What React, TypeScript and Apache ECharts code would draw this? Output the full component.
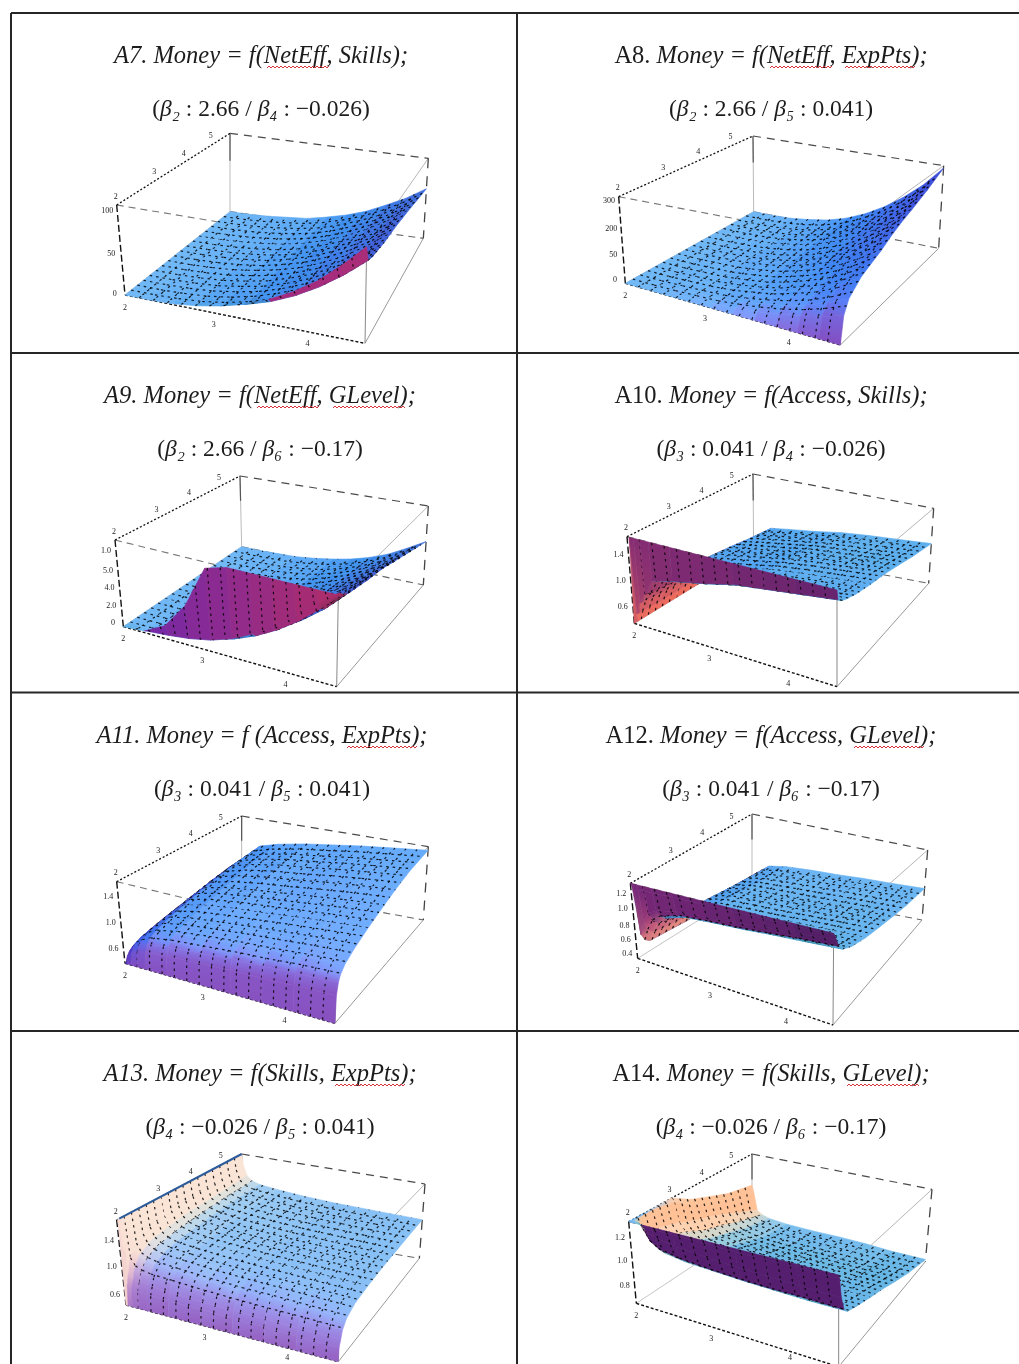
import React, { useEffect, useRef } from "react";
import * as echarts from "echarts";

const uPower = [0, .1, .2, .3, .4, .5, .6, .7, .8, .9, 1];
const uFine = [0, .01, .03, .06, .1, .2, .35, .5, .65, .8, 1];

const a7V = [0, .03, .1, .2, .3, .4, .5, .6, .7, .85, 1];
const a7Z = [
  [0, 0, 1, 4, 9, 16, 26, 39, 55, 76, 100],
  [0, 0, 1, 3, 7, 13, 21, 32, 46, 63, 83],
  [0, 0, 1, 3, 7, 13, 21, 31, 44, 60, 80],
  [0, 0, 1, 3, 7, 12, 20, 30, 43, 59, 78],
  [0, 0, 1, 3, 7, 12, 20, 29, 42, 57, 76],
  [0, 0, 1, 3, 7, 12, 19, 29, 41, 57, 75],
  [0, 0, 1, 3, 6, 12, 19, 29, 41, 56, 74],
  [0, 0, 1, 3, 6, 11, 19, 28, 40, 54, 72],
  [0, 0, 1, 3, 6, 11, 18, 27, 39, 53, 70],
  [0, 0, 1, 3, 6, 10, 17, 26, 36, 50, 66],
  [0, 0, 1, 3, 5, 10, 16, 24, 35, 47, 62],
];
const a8V = [0, .03, .08, .2, .3, .4, .5, .6, .7, .85, 1];
const a8Z = [
  [0, 0, 0, 0, 0, 0, 0, 0, 0, 0, 0],
  [0, 0, 0, 1, 2, 4, 6, 10, 14, 19, 25],
  [0, 0, 1, 2, 3, 6, 10, 14, 20, 28, 37],
  [0, 0, 1, 2, 4, 8, 12, 19, 26, 36, 48],
  [0, 0, 1, 2, 5, 8, 14, 21, 29, 40, 53],
  [0, 0, 1, 2, 5, 9, 15, 22, 32, 44, 58],
  [0, 0, 1, 3, 6, 10, 17, 25, 36, 49, 65],
  [0, 0, 1, 3, 6, 11, 18, 27, 39, 54, 71],
  [0, 0, 1, 3, 7, 12, 20, 29, 42, 57, 76],
  [0, 0, 1, 3, 7, 13, 22, 33, 47, 64, 85],
  [0, 0, 1, 4, 8, 15, 25, 38, 54, 73, 97],
];
const a9V = [0, .02, .05, .1, .2, .35, .5, .65, .8, .9, 1];
const a9Z = [
  [0, 2, 15, 44, 93, 100, 100, 100, 100, 100, 100],
  [0, 0, 2, 5, 10, 18, 30, 44, 63, 87, 100],
  [0, 0, 1, 4, 9, 15, 25, 38, 54, 74, 96],
  [0, 0, 1, 4, 8, 15, 24, 36, 51, 69, 92],
  [0, 0, 1, 4, 8, 14, 23, 34, 49, 66, 88],
  [0, 0, 1, 3, 7, 13, 21, 32, 46, 63, 83],
  [0, 0, 1, 3, 7, 12, 20, 31, 44, 60, 79],
  [0, 0, 1, 3, 6, 11, 19, 28, 40, 54, 72],
  [0, 0, 1, 3, 6, 10, 17, 25, 36, 49, 65],
  [0, 0, 1, 2, 5, 9, 15, 23, 33, 45, 60],
  [0, 0, 1, 2, 5, 9, 14, 21, 30, 42, 55],
];
const a10V = [0, .01, .03, .06, .1, .2, .35, .5, .65, .8, 1];
const a10Z = [
  [0, 100, 100, 100, 100, 100, 100, 100, 100, 100, 100],
  [0, 11, 25, 37, 55, 61, 68, 76, 80, 84, 89],
  [0, 10, 24, 37, 54, 59, 66, 74, 78, 82, 87],
  [0, 10, 24, 35, 52, 57, 64, 71, 76, 79, 84],
  [0, 10, 23, 34, 51, 56, 62, 70, 74, 77, 82],
  [0, 9, 22, 33, 48, 53, 59, 66, 70, 73, 78],
  [0, 9, 21, 31, 46, 50, 56, 63, 67, 70, 74],
  [0, 9, 20, 30, 44, 48, 54, 60, 64, 67, 71],
  [0, 8, 18, 28, 41, 45, 50, 56, 59, 62, 66],
  [0, 7, 17, 25, 37, 41, 46, 51, 54, 56, 60],
  [0, 6, 15, 22, 33, 36, 40, 45, 48, 50, 53],
];
const a11V = [0, .01, .03, .05, .1, .2, .35, .5, .65, .8, 1];
const a11Z = [
  [0, 0, 0, 0, 0, 0, 0, 0, 0, 0, 0],
  [0, 9, 14, 17, 20, 22, 24, 26, 27, 29, 30],
  [0, 13, 19, 24, 28, 31, 34, 37, 39, 41, 43],
  [0, 15, 22, 27, 32, 36, 39, 42, 44, 47, 49],
  [0, 17, 25, 31, 36, 41, 45, 48, 50, 53, 56],
  [0, 19, 28, 35, 41, 46, 50, 54, 57, 60, 63],
  [0, 21, 32, 39, 46, 52, 57, 60, 64, 67, 71],
  [0, 23, 35, 43, 51, 57, 62, 66, 70, 74, 78],
  [0, 26, 38, 47, 55, 62, 68, 72, 77, 81, 85],
  [0, 27, 41, 50, 59, 66, 73, 77, 82, 86, 91],
  [0, 29, 43, 52, 62, 69, 76, 81, 86, 90, 95],
];
const a12V = [0, .01, .03, .06, .1, .2, .35, .5, .65, .8, 1];
const a12Z = [
  [100, 100, 100, 100, 100, 100, 100, 100, 100, 100, 100],
  [95, 90, 92, 93, 93, 94, 95, 95, 96, 96, 97],
  [60, 30, 48, 62, 68, 74, 77, 80, 84, 86, 90],
  [30, 20, 35, 50, 58, 66, 69, 71, 74, 77, 80],
  [15, 15, 28, 42, 52, 60, 63, 65, 68, 70, 73],
  [13, 14, 25, 38, 48, 54, 57, 59, 61, 63, 66],
  [11, 12, 22, 34, 44, 49, 52, 53, 56, 58, 60],
  [8, 10, 20, 32, 41, 46, 48, 50, 52, 54, 56],
  [6, 9, 18, 30, 38, 43, 45, 46, 48, 50, 52],
  [5, 8, 16, 28, 35, 39, 41, 43, 45, 46, 48],
  [4, 7, 14, 26, 33, 37, 39, 40, 42, 43, 45],
];
const a13V = [0, .01, .03, .05, .1, .2, .35, .5, .65, .8, 1];
const a13Z = [
  [0, 0, 0, 0, 0, 0, 0, 0, 0, 0, 0],
  [100, 24, 21, 19, 18, 17, 17, 16, 16, 15, 15],
  [100, 36, 30, 28, 27, 25, 24, 23, 23, 22, 22],
  [100, 49, 41, 38, 36, 35, 33, 32, 31, 31, 30],
  [100, 62, 52, 48, 46, 44, 42, 40, 40, 39, 38],
  [100, 72, 61, 56, 53, 51, 48, 47, 46, 45, 44],
  [100, 77, 65, 60, 57, 54, 52, 50, 49, 48, 47],
  [100, 80, 68, 62, 59, 56, 54, 52, 51, 50, 49],
  [100, 82, 69, 64, 61, 58, 55, 53, 52, 51, 50],
  [100, 83, 70, 65, 62, 59, 56, 54, 53, 52, 51],
  [100, 85, 72, 66, 63, 60, 57, 55, 54, 53, 52],
];
const a14V = [0, .01, .03, .06, .1, .2, .35, .5, .65, .8, 1];
const a14Z = [
  [100, 100, 100, 100, 100, 100, 100, 100, 100, 100, 100],
  [100, 100, 100, 98, 97, 96, 96, 95, 95, 95, 95],
  [100, 100, 98, 90, 85, 80, 77, 75, 74, 73, 72],
  [100, 100, 88, 75, 68, 63, 60, 58, 57, 57, 56],
  [100, 100, 80, 68, 60, 56, 54, 52, 51, 50, 50],
  [100, 100, 78, 68, 60, 51, 48, 47, 46, 45, 45],
  [100, 95, 70, 60, 52, 44, 41, 40, 39, 38, 38],
  [85, 78, 60, 48, 41, 36, 34, 33, 32, 31, 31],
  [75, 68, 52, 40, 33, 27, 25, 24, 23, 22, 22],
  [65, 58, 40, 30, 24, 18, 16, 15, 14, 13, 13],
  [57, 48, 24, 19, 16, 13, 11, 10, 8, 5, 3],
];

const titlePrefixes = ["A7. ", "A8. ", "A9. ", "A10. ", "A11. ", "A12. ", "A13. ", "A14. "];
const titleBodies = [
  "Money = f(NetEff, Skills);", "Money = f(NetEff, ExpPts);", "Money = f(NetEff, GLevel);", "Money = f(Access, Skills);",
  "Money = f (Access, ExpPts);", "Money = f(Access, GLevel);", "Money = f(Skills, ExpPts);", "Money = f(Skills, GLevel);",
];
const betaNames = [["β₂", "β₄"], ["β₂", "β₅"], ["β₂", "β₆"], ["β₃", "β₄"], ["β₃", "β₅"], ["β₃", "β₆"], ["β₄", "β₅"], ["β₄", "β₆"]];
const betaValues = [
  ["2.66", "−0.026"], ["2.66", "0.041"], ["2.66", "−0.17"], ["0.041", "−0.026"],
  ["0.041", "0.041"], ["0.041", "−0.17"], ["−0.026", "0.041"], ["−0.026", "−0.17"],
];
const frontTickLabels = ["2", "3", "4"];
const frontTickAt = [0, .37, .76];
const sideTickLabels = ["2", "3", "4", "5"];
const sideTickAt = [0, .34, .6, .84];
const zTickLabels = [
  ["100", "50", "0"], ["300", "200", "50", "0"], ["1.0", "5.0", "4.0", "2.0", "0"], ["1.4", "1.0", "0.6"],
  ["1.4", "1.0", "0.6"], ["1.2", "1.0", "0.8", "0.6", "0.4"], ["1.4", "1.0", "0.6"], ["1.2", "1.0", "0.8"],
];
const zTickAt = [
  [94, 46, 2], [96, 63, 33, 4], [88, 65, 45, 24, 5], [80, 50, 20],
  [82, 50, 18], [87, 67, 44, 25, 7], [76, 45, 12], [81, 52, 22],
];

// layout: box corners, as L, K, R, F (top) and L, K, R, F (bottom)
const box = (ox: number, oy: number, p: number[][]) => p.map(([x, y]) => [ox + x / 3, oy + y / 3]);
const boxes = [
  box(0, 0, [[350, 615], [690, 400], [1285, 475], [1100, 740], [375, 885], [690, 635], [1270, 715], [1095, 1030]]),
  box(517, 0, [[305, 590], [708, 408], [1280, 497], [975, 717], [325, 850], [710, 635], [1265, 745], [970, 1035]]),
  box(0, 350, [[345, 570], [720, 378], [1285, 468], [1015, 735], [370, 830], [725, 590], [1270, 705], [1010, 1010]]),
  box(517, 350, [[330, 560], [708, 372], [1250, 475], [960, 720], [352, 820], [710, 600], [1235, 700], [960, 1010]]),
  box(0, 690, [[350, 575], [725, 378], [1285, 470], [1010, 735], [375, 820], [725, 590], [1270, 690], [1005, 1000]]),
  box(517, 690, [[340, 580], [705, 372], [1232, 480], [950, 730], [362, 805], [705, 590], [1215, 690], [948, 1005]]),
  box(0, 1030, [[350, 570], [725, 372], [1275, 462], [1015, 730], [378, 825], [725, 595], [1258, 685], [1015, 995]]),
  box(517, 1030, [[335, 575], [705, 372], [1245, 478], [965, 735], [358, 820], [705, 590], [1225, 695], [965, 1010]]),
];
const surfaces = [
  { u: uPower, v: a7V, z: a7Z }, { u: uPower, v: a8V, z: a8Z }, { u: uPower, v: a9V, z: a9Z }, { u: uFine, v: a10V, z: a10Z },
  { u: uFine, v: a11V, z: a11Z }, { u: uFine, v: a12V, z: a12Z }, { u: uFine, v: a13V, z: a13Z }, { u: uFine, v: a14V, z: a14Z },
];
const titleCentersX = [261, 771, 260, 771, 262, 771, 260, 771];
const titleCentersY = [54, 54, 394, 394, 734, 734, 1072, 1072];
const subCentersY = [108, 108, 448, 448, 788, 788, 1126, 1126];
const squiggles = [
  [267, 330, 67], [770, 832, 67], [845, 915, 67], [257, 320, 407], [333, 405, 407],
  [347, 417, 747], [854, 925, 747], [335, 405, 1085], [847, 919, 1085],
];
// styling per panel
const wallTints: (number[][] | null)[] = [
  [[150, 40, 140], [170, 45, 120]], null, [[110, 40, 175], [175, 45, 105]], [[135, 45, 115], [100, 35, 110]],
  null, [[120, 40, 120], [80, 30, 100]], null, [[85, 30, 110], [85, 30, 110]],
];
const whiteU = [0, 0, 0, .3, 0, .45, .8, .22];
const whiteAll = [0, 0, 0, 0, 0, .03, .12, .03];
const wedgeTints: (number[][] | null)[] = [
  null, null, null, [[245, 112, 92], [135, 45, 110]], null, [[250, 170, 130], [170, 60, 120]], null, null,
];

const project = (c: number[][], u: number, v: number, z: number) => {
  const bi = (a: number[], b: number[], d: number[], e: number[], k: number) =>
    (1 - u) * (1 - v) * a[k] + u * (1 - v) * e[k] + u * v * d[k] + (1 - u) * v * b[k];
  const t = z / 100;
  return [0, 1].map((k) => (1 - t) * bi(c[4], c[5], c[6], c[7], k) + t * bi(c[0], c[1], c[2], c[3], k));
};

const norm = (a: number[]) => { const l = Math.hypot(a[0], a[1], a[2]) || 1; return a.map((x) => x / l); };
const dot = (a: number[], b: number[]) => a[0] * b[0] + a[1] * b[1] + a[2] * b[2];
const viewZ = norm([1.3, -2.4, 2]);
const viewX = norm([2.4, 1.3, 0]);
const viewY = [
  viewZ[1] * viewX[2] - viewZ[2] * viewX[1],
  viewZ[2] * viewX[0] - viewZ[0] * viewX[2],
  viewZ[0] * viewX[1] - viewZ[1] * viewX[0],
];
const lightR = norm([1.5, -.5, 2]), lightG = norm([1.5, 1.5, 2]), lightB = norm([-.5, 1.5, 2]);
const clampTo = (x: number, m: number) => Math.max(-m, Math.min(m, x));

const shadeCell = (p: number, i: number, j: number) => {
  const { u, v, z } = surfaces[p];
  const u0 = u[i], u1 = u[i + 1], v0 = v[j], v1 = v[j + 1];
  const zs = [z[j][i], z[j][i + 1], z[j + 1][i + 1], z[j + 1][i]];
  const h = .4 / 100;
  const dzu = ((zs[1] - zs[0]) + (zs[2] - zs[3])) / 2 * h / (u1 - u0);
  const dzv = ((zs[3] - zs[0]) + (zs[2] - zs[1])) / 2 * h / (v1 - v0);
  let n = norm([-dzu, -dzv, 1]);
  const flip = dot(n, viewZ) < 0;
  const tint = wallTints[p];
  const um = (u0 + u1) / 2;
  if (flip && tint && Math.abs(dzv) > Math.abs(dzu)) {
    return { c: tint[0].map((a, k) => a + (tint[1][k] - a) * um), flip };
  }
  const wedge = wedgeTints[p];
  if (wedge && dzu > .9 && v0 < .6) {
    const t = Math.min(1, ((zs[0] + zs[1] + zs[2] + zs[3]) / 4) / 55);
    return { c: wedge[0].map((a, k) => a + (wedge[1][k] - a) * t), flip: true };
  }
  if (flip) n = n.map((x) => -x);
  else n = norm([-clampTo(dzu, 3), -clampTo(dzv, 3), 1]);
  const nv = [dot(n, viewX), dot(n, viewY), dot(n, viewZ)];
  const r = (.312 + .8 * Math.max(0, dot(nv, lightR))) * .79;
  const g = (.188 + .8 * Math.max(0, dot(nv, lightG))) * .85;
  const b = (.4 + .8 * Math.max(0, dot(nv, lightB))) * .84;
  const m = Math.min(1, whiteAll[p] + Math.max(0, n[0]) * whiteU[p]);
  const mix = (x: number, w: number) => Math.min(255, Math.min(1, x) * 255) * (1 - m) + w * m;
  const red = p === 7 ? Math.max(0, n[0]) * 55 : 0;
  return { c: [Math.min(255, mix(r, 255) + red), mix(g, 235), mix(b, 225)], flip };
};
const css = (c: number[]) => `rgb(${Math.round(c[0])},${Math.round(c[1])},${Math.round(c[2])})`;

const meshCount = 17;

const surfaceSeries = (pi: number) => {
  const { u, v, z } = surfaces[pi];
  const c = boxes[pi];
  const cells: number[][] = [];
  const shades: any[][] = [];
  for (let j = 0; j < v.length - 1; j++) {
    shades.push([]);
    for (let i = 0; i < u.length - 1; i++) shades[j].push(shadeCell(pi, i, j));
  }
  for (let j = v.length - 2; j >= 0; j--) for (let i = 0; i < u.length - 1; i++) cells.push([i, j]);
  return {
    type: "custom", coordinateSystem: "cartesian2d", silent: true, clip: false, progressive: 0, z: 5,
    data: cells, encode: { x: 0, y: 1 },
    renderItem: (params: any, api: any) => {
      const [i, j] = cells[params.dataIndex];
      const u0 = u[i], u1 = u[i + 1], v0 = v[j], v1 = v[j + 1];
      const zs = [z[j][i], z[j][i + 1], z[j + 1][i + 1], z[j + 1][i]];
      const P = (a: number, b: number, h: number) => api.coord(project(c, a, b, h));
      const pts = [P(u0, v0, zs[0]), P(u1, v0, zs[1]), P(u1, v1, zs[2]), P(u0, v1, zs[3])];
      const me = shades[j][i];
      const edge = (o: any) => (o && o.flip === me.flip ? me.c.map((x: number, k: number) => (x + o.c[k]) / 2) : me.c);
      const nearC = edge(j > 0 ? shades[j - 1][i] : null);
      const farC = edge(j < shades.length - 1 ? shades[j + 1][i] : null);
      const nx = (pts[0][0] + pts[1][0]) / 2, ny = (pts[0][1] + pts[1][1]) / 2;
      const fx = (pts[2][0] + pts[3][0]) / 2, fy = (pts[2][1] + pts[3][1]) / 2;
      const fill: any = Math.hypot(nx - fx, ny - fy) < 1.5 ? css(me.c) : new echarts.graphic.LinearGradient(
        fx, fy, nx, ny, [{ offset: 0, color: css(farC) }, { offset: 1, color: css(nearC) }], true);
      const children: any[] = [{
        type: "polygon",
        shape: { points: pts },
        style: { fill, stroke: fill, lineWidth: .6 },
      }];
      const meshStyle = { stroke: "rgba(0,0,0,.85)", lineWidth: 1.2, fill: "none", lineDash: [2.5, 4] };
      for (let k = 1; k < meshCount; k++) {
        const m = k / meshCount;
        if (m >= u0 && m < u1) {
          const t = (m - u0) / (u1 - u0);
          const a = P(m, v0, zs[0] + (zs[1] - zs[0]) * t), b = P(m, v1, zs[3] + (zs[2] - zs[3]) * t);
          children.push({ type: "polyline", shape: { points: [a, b] }, style: meshStyle });
        }
        if (m >= v0 && m < v1) {
          const t = (m - v0) / (v1 - v0);
          const a = P(u0, m, zs[0] + (zs[3] - zs[0]) * t), b = P(u1, m, zs[1] + (zs[2] - zs[1]) * t);
          children.push({ type: "polyline", shape: { points: [a, b] }, style: meshStyle });
        }
      }
      return { type: "group", children };
    },
  };
};

const seg = (a: number[], b: number[], stroke: string, lineDash: any, lineWidth = 1) => ({
  type: "line", shape: { x1: a[0], y1: a[1], x2: b[0], y2: b[1] }, style: { stroke, lineDash, lineWidth }, silent: true,
});

const serif = "'Liberation Serif', 'Times New Roman', serif";
const textEl = (x: number, y: number, text: string, extra: any) => ({
  type: "text", x, y, silent: true,
  style: { text, fontFamily: serif, fill: "#1c1c1c", align: "center", verticalAlign: "middle", ...extra },
});

const buildGraphic = () => {
  const els: any[] = [];
  const dark = "#262626";
  els.push(seg([11, 13], [1019, 13], dark, null, 2));
  els.push(seg([11, 13], [11, 1364], dark, null, 2));
  els.push(seg([517, 13], [517, 1364], dark, null, 2));
  [353, 692.5, 1031].forEach((y) => els.push(seg([11, y], [1019, y], dark, null, 2)));

  boxes.forEach((c, p) => {
    const [lt, kt, rt, ft, lb, kb, rb, fb] = c;
    const kMid = [kt[0] * .65 + kb[0] * .35, kt[1] * .65 + kb[1] * .35];
    els.push(seg(lt, ft, "#777", [7, 5], 1.1));
    els.push(seg(ft, rt, "#b5b5b5", null));
    els.push(seg(kt, rt, "#4a4a4a", [8, 6], 1.2));
    els.push(seg(lb, kb, "#c5c5c5", null));
    els.push(seg(kb, rb, "#666", [7, 5], 1.1));
    els.push(seg(fb, rb, "#999", null));
    els.push(seg(kt, kb, "#bbb", null));
    els.push(seg(kt, kMid, "#555", null, 1.2));
    els.push(seg(rt, rb, "#444", [10, 8], 1.3));
    els.push(seg(ft, fb, "#888", null));
    els.push(seg(lt, kt, "#111", [2, 2], 1.3));
    els.push(seg(lb, fb, "#111", [3, 2], 1.4));
    els.push(seg(lt, lb, "#111", [7, 3], 1.4));

    frontTickAt.forEach((t, i) => {
      const q = project(c, t, 0, 0);
      els.push(textEl(q[0], Math.min(q[1] + 12, 1357), frontTickLabels[i], { fontSize: 8 }));
    });
    sideTickAt.forEach((t, i) => {
      const q = project(c, 0, t, 100);
      els.push(textEl(q[0] - 1, q[1] - 9, sideTickLabels[i], { fontSize: 8 }));
    });
    zTickAt[p].forEach((t, i) => {
      const q = project(c, 0, 0, t);
      els.push(textEl(q[0] - 10, q[1], zTickLabels[p][i], { fontSize: 8 }));
    });

    const rich = {
      i: { fontFamily: serif, fontStyle: "italic", fontSize: 24.5, fill: "#1c1c1c" },
      n: { fontFamily: serif, fontSize: 24.5, fill: "#1c1c1c" },
      j: { fontFamily: serif, fontStyle: "italic", fontSize: 23.5, fill: "#1c1c1c" },
      m: { fontFamily: serif, fontSize: 23.5, fill: "#1c1c1c" },
    };
    const isLeft = p % 2 === 0;
    els.push(textEl(titleCentersX[p], titleCentersY[p], `{${isLeft ? "i" : "n"}|${titlePrefixes[p]}}{i|${titleBodies[p]}}`, { rich }));
    els.push(textEl(titleCentersX[p], subCentersY[p],
      `{m|(}{j|${betaNames[p][0]}}{m| : ${betaValues[p][0]} / }{j|${betaNames[p][1]}}{m| : ${betaValues[p][1]})}`, { rich }));
  });

  // the blue rim along the top of the A13 surface
  const a13 = boxes[6];
  els.push({ ...seg(project(a13, 0, .02, 100), project(a13, 0, 1, 100), "#2c5c9c", null, 2), z: 20 });

  squiggles.forEach(([x0, x1, y]) => {
    const points: number[][] = [];
    let up = false;
    for (let x = x0; x <= x1; x += 2) { points.push([x, y + (up ? -1 : 1)]); up = !up; }
    els.push({ type: "polyline", silent: true, shape: { points }, style: { stroke: "#d8323c", lineWidth: 1, fill: "none" } });
  });
  return els;
};

export default function App() {
  const ref = useRef<HTMLDivElement>(null);
  useEffect(() => {
    document.body.style.margin = "0";
    const chart = echarts.init(ref.current!, null, { renderer: "svg" });
    chart.setOption({
      animation: false,
      backgroundColor: "#fff",
      grid: { left: 0, top: 0, right: 0, bottom: 0 },
      xAxis: { type: "value", min: 0, max: 1019, show: false },
      yAxis: { type: "value", min: 0, max: 1364, inverse: true, show: false },
      graphic: { elements: buildGraphic() },
      series: surfaces.map((_, p) => surfaceSeries(p)),
    });
    return () => chart.dispose();
  }, []);
  return <div ref={ref} style={{ width: 1019, height: 1364, position: "absolute", left: 0, top: 0, filter: "blur(0.6px)" }} />;
}
